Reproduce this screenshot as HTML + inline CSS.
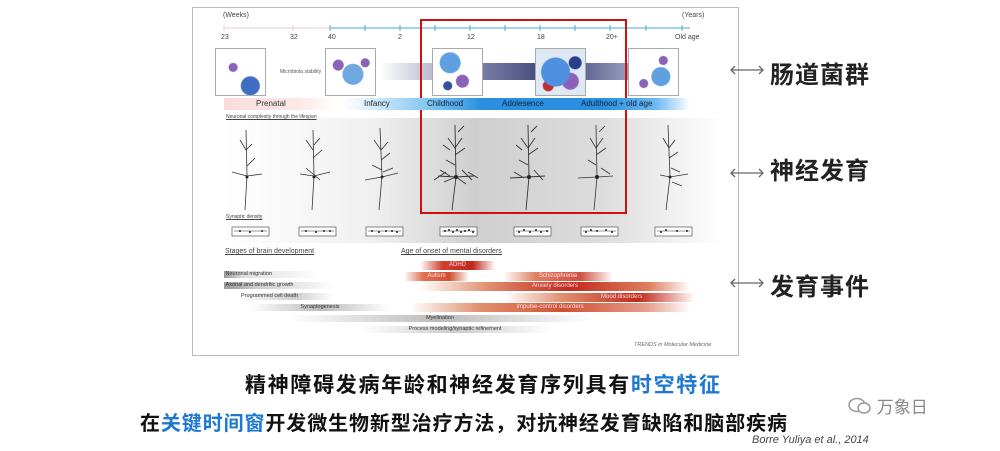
<!DOCTYPE html>
<html><head><meta charset="utf-8"><style>
body{margin:0;width:1000px;height:451px;background:#fff;position:relative;overflow:hidden;font-family:"Liberation Sans","Noto Sans CJK SC",sans-serif}
.a{position:absolute}
.fig{left:192px;top:7px;width:545px;height:347px;border:1px solid #bbb;background:#fff}
.t{font-size:7px;color:#444;position:absolute;white-space:nowrap}
.g{position:absolute;height:7px;font-size:5.5px;color:#333;text-align:center;line-height:7px}
.r{position:absolute;height:9px;font-size:6px;color:#fde;text-align:center;line-height:9px}
.lab{position:absolute;font-size:24px;font-weight:bold;color:#222;letter-spacing:1px}
.mb{position:absolute;width:49px;height:46px;border:1px solid #aaa;background:#fff}
</style></head><body>
<div class="a fig"></div>
<svg class="a" style="left:0;top:0" width="1000" height="451">
<defs>
<linearGradient id="mbg" x1="0" x2="1"><stop offset="0" stop-color="#fff"/><stop offset="0.4" stop-color="#7a7fa8"/><stop offset="0.7" stop-color="#3a3f72"/><stop offset="1" stop-color="#9aa0c0"/></linearGradient>
<linearGradient id="nbg" x1="0" x2="1"><stop offset="0" stop-color="#fff"/><stop offset="0.3" stop-color="#f0f0f0"/><stop offset="0.5" stop-color="#cfcfcf"/><stop offset="0.75" stop-color="#dcdcdc"/><stop offset="1" stop-color="#fff"/></linearGradient>
</defs>
<rect x="224" y="118" width="500" height="125" fill="url(#nbg)"/>
<line x1="224" y1="28" x2="330" y2="28" stroke="#f2c8c8" stroke-width="1"/>
<line x1="330" y1="28" x2="690" y2="28" stroke="#4aa8d0" stroke-width="1"/>
<g stroke="#4aa8d0"><line x1="330" y1="25" x2="330" y2="31"/><line x1="365" y1="25" x2="365" y2="31"/><line x1="400" y1="25" x2="400" y2="31"/><line x1="435" y1="25" x2="435" y2="31"/><line x1="470" y1="25" x2="470" y2="31"/><line x1="505" y1="25" x2="505" y2="31"/><line x1="540" y1="25" x2="540" y2="31"/><line x1="575" y1="25" x2="575" y2="31"/><line x1="610" y1="25" x2="610" y2="31"/><line x1="646" y1="25" x2="646" y2="31"/><line x1="682" y1="25" x2="682" y2="31"/></g>
<g stroke="#f2c8c8"><line x1="224" y1="25" x2="224" y2="31"/><line x1="293" y1="25" x2="293" y2="31"/></g>
<rect x="380" y="63" width="250" height="17" fill="url(#mbg)"/>
<text x="280" y="73" font-size="5" fill="#555" font-family="Liberation Sans">Microbiota stability</text>
<g stroke="#333" stroke-width="0.8" fill="none">
<path d="M246 130 L247 176 L245 210 M240 140 L246 150 L252 144 M232 172 L247 176 L262 174 M247 166 L255 158"/>
<path d="M313 130 L314 176 L312 210 M306 140 L313 150 M313 158 L322 150 M300 174 L314 176 L330 172 M306 168 L320 180 M314 145 L320 138"/>
<path d="M380 128 L382 176 L379 210 M374 140 L381 150 L388 142 M381 160 L390 153 M372 165 L382 170 M365 180 L382 177 L398 173 M383 172 L393 168"/>
<path stroke-width="0.9" d="M455 125 L456 177 L452 210 M448 138 L455 148 L462 138 M455 155 L465 148 M446 160 L455 165 M438 176 L456 177 L474 176 M440 170 L450 176 M462 170 L472 180 M444 182 L456 177 L466 184 M450 150 L443 145 M458 132 L464 126 M434 180 L446 172 M468 172 L478 178"/>
<path stroke-width="0.9" d="M528 125 L529 177 L526 210 M521 138 L528 148 L535 138 M528 155 L538 148 M519 160 L528 165 M510 178 L529 177 L545 176 M514 172 L524 178 M534 170 L543 180 M531 132 L537 126 M522 150 L516 145"/>
<path d="M596 125 L597 177 L594 210 M590 138 L596 148 L603 138 M596 155 L606 148 M588 160 L596 165 M578 178 L597 177 L613 176 M601 168 L610 174 M599 132 L605 126"/>
<path d="M668 125 L670 177 L666 210 M663 138 L669 148 L675 140 M669 158 L678 152 M660 175 L670 177 L688 174 M671 168 L680 172 M672 182 L682 186"/>
</g>
<g fill="#222"><circle cx="247" cy="177" r="1.5"/><circle cx="314" cy="177" r="1.5"/><circle cx="382" cy="177" r="1.5"/><circle cx="456" cy="177" r="2"/><circle cx="529" cy="177" r="2"/><circle cx="597" cy="177" r="2"/><circle cx="670" cy="177" r="1.5"/></g>
<g stroke="#555" stroke-width="0.7" fill="#fff">
<rect x="232" y="227" width="37" height="9"/><rect x="299" y="227" width="37" height="9"/><rect x="366" y="227" width="37" height="9"/><rect x="440" y="227" width="37" height="9"/><rect x="514" y="227" width="37" height="9"/><rect x="581" y="227" width="37" height="9"/><rect x="655" y="227" width="37" height="9"/>
</g>
<g stroke="#333" stroke-width="0.6"><line x1="234" y1="231" x2="267" y2="231"/><line x1="301" y1="231" x2="334" y2="231"/><line x1="368" y1="231" x2="401" y2="231"/><line x1="442" y1="231" x2="475" y2="231"/><line x1="516" y1="231" x2="549" y2="231"/><line x1="583" y1="231" x2="616" y2="231"/><line x1="657" y1="231" x2="690" y2="231"/></g>
<g fill="#222">
<circle cx="240" cy="231" r="1"/><circle cx="250" cy="232" r="1"/><circle cx="262" cy="231" r="1"/>
<circle cx="306" cy="231" r="1"/><circle cx="316" cy="232" r="1"/><circle cx="324" cy="231" r="1"/><circle cx="330" cy="231" r="1"/>
<circle cx="372" cy="231" r="1"/><circle cx="379" cy="232" r="1"/><circle cx="386" cy="231" r="1"/><circle cx="392" cy="231" r="1"/><circle cx="397" cy="232" r="1"/>
<circle cx="445" cy="231" r="1"/><circle cx="449" cy="230" r="1"/><circle cx="453" cy="232" r="1"/><circle cx="457" cy="230" r="1"/><circle cx="461" cy="232" r="1"/><circle cx="465" cy="231" r="1"/><circle cx="469" cy="230" r="1"/><circle cx="473" cy="232" r="1"/>
<circle cx="519" cy="232" r="1"/><circle cx="524" cy="230" r="1"/><circle cx="530" cy="232" r="1"/><circle cx="536" cy="230" r="1"/><circle cx="541" cy="232" r="1"/><circle cx="547" cy="231" r="1"/>
<circle cx="586" cy="232" r="1"/><circle cx="591" cy="230" r="1"/><circle cx="597" cy="231" r="1"/><circle cx="606" cy="230" r="1"/><circle cx="612" cy="232" r="1"/>
<circle cx="661" cy="232" r="1"/><circle cx="666" cy="230" r="1"/><circle cx="677" cy="231" r="1"/><circle cx="687" cy="231" r="1"/>
</g>
<rect x="421" y="20" width="205" height="193" fill="none" stroke="#d01010" stroke-width="2"/>
<g stroke="#666" stroke-width="1.3" fill="none">
<path d="M731 70 L763 70 M735 66 L731 70 L735 74 M759 66 L763 70 L759 74"/>
<path d="M731 173 L763 173 M735 169 L731 173 L735 177 M759 169 L763 173 L759 177"/>
<path d="M731 283 L763 283 M735 279 L731 283 L735 287 M759 279 L763 283 L759 287"/>
</g>
</svg>
<div class="t" style="left:223px;top:12px">(Weeks)</div>
<div class="t" style="left:682px;top:12px">(Years)</div>
<div class="t" style="left:221px;top:34px">23</div><div class="t" style="left:290px;top:34px">32</div><div class="t" style="left:328px;top:34px">40</div><div class="t" style="left:398px;top:34px">2</div><div class="t" style="left:467px;top:34px">12</div><div class="t" style="left:537px;top:34px">18</div><div class="t" style="left:606px;top:34px">20+</div><div class="t" style="left:675px;top:34px">Old age</div>
<div class="mb" style="left:215px;top:48px;background:radial-gradient(circle at 70% 80%,#3d6ec4 0 9px,transparent 10px),radial-gradient(circle at 35% 40%,#8a62b8 0 4px,transparent 5px),#fff"></div>
<div class="mb" style="left:325px;top:48px;background:radial-gradient(circle at 55% 55%,#6fa8e0 0 10px,transparent 11px),radial-gradient(circle at 25% 35%,#8a62b8 0 5px,transparent 6px),radial-gradient(circle at 80% 30%,#8a62b8 0 4px,transparent 5px),#fff"></div>
<div class="mb" style="left:432px;top:48px;background:radial-gradient(circle at 35% 30%,#5fa0e0 0 10px,transparent 11px),radial-gradient(circle at 60% 70%,#8a62b8 0 6px,transparent 7px),radial-gradient(circle at 30% 80%,#3050a0 0 4px,transparent 5px),#fff"></div>
<div class="mb" style="left:535px;top:48px;background:radial-gradient(circle at 40% 50%,#4f90e0 0 14px,transparent 15px),radial-gradient(circle at 70% 70%,#8a62b8 0 8px,transparent 9px),radial-gradient(circle at 25% 80%,#c03030 0 5px,transparent 6px),radial-gradient(circle at 80% 30%,#2a3f8a 0 6px,transparent 7px),#dfe8f5"></div>
<div class="mb" style="left:628px;top:48px;background:radial-gradient(circle at 65% 60%,#5fa0e0 0 9px,transparent 10px),radial-gradient(circle at 70% 25%,#8a62b8 0 4px,transparent 5px),radial-gradient(circle at 30% 75%,#8a62b8 0 4px,transparent 5px),#fff"></div>
<div class="a" style="left:224px;top:98px;width:112px;height:12px;background:linear-gradient(90deg,#fbdcdc,#fde9e9 70%,#fff)"></div>
<div class="a" style="left:345px;top:98px;width:345px;height:12px;background:linear-gradient(90deg,#fff,#7cc4f0 25%,#2a8fe0 40%,#2a8fe0 75%,#6cb8f0 90%,#fff)"></div>
<div class="t" style="left:256px;top:99px;font-size:8px;color:#333">Prenatal</div>
<div class="t" style="left:364px;top:99px;font-size:8px;color:#223">Infancy</div>
<div class="t" style="left:427px;top:99px;font-size:8px;color:#123">Childhood</div>
<div class="t" style="left:502px;top:99px;font-size:8px;color:#123">Adolesence</div>
<div class="t" style="left:581px;top:99px;font-size:8px;color:#123">Adulthood + old age</div>
<div class="t" style="left:226px;top:114px;font-size:5px;text-decoration:underline">Neuronal complexity through the lifespan</div>
<div class="t" style="left:226px;top:214px;font-size:5px;text-decoration:underline">Synaptic density</div>
<div class="t" style="left:225px;top:248px;text-decoration:underline">Stages of brain development</div>
<div class="t" style="left:401px;top:248px;text-decoration:underline">Age of onset of mental disorders</div>
<div class="g" style="left:224px;top:271px;width:95px;text-align:left;background:linear-gradient(90deg,#999,#ddd 20%,#fff)">&nbsp;Neuronal migration</div>
<div class="g" style="left:224px;top:282px;width:110px;text-align:left;background:linear-gradient(90deg,#999,#ccc 30%,#fff)">&nbsp;Axonal and dendritic growth</div>
<div class="g" style="left:238px;top:293px;width:95px;text-align:left;background:linear-gradient(90deg,#fff,#ccc 60%,#fff)">&nbsp;&nbsp;Programmed cell death</div>
<div class="g" style="left:250px;top:304px;width:140px;background:linear-gradient(90deg,#fff,#bbb 50%,#fff)">Synaptogenesis</div>
<div class="g" style="left:290px;top:315px;width:300px;background:linear-gradient(90deg,#fff,#bbb 50%,#fff)">Myelination</div>
<div class="g" style="left:360px;top:326px;width:190px;background:linear-gradient(90deg,#fff,#ccc 50%,#fff)">Process modeling/synaptic refinement</div>
<div class="r" style="left:420px;top:261px;width:75px;background:linear-gradient(90deg,#fff,#d04030 30%,#c02818 70%,#fff)">ADHD</div>
<div class="r" style="left:404px;top:272px;width:65px;background:linear-gradient(90deg,#fff,#e07050 30%,#d05030 70%,#fff)">Autism</div>
<div class="r" style="left:503px;top:272px;width:110px;background:linear-gradient(90deg,#fff,#e08060 30%,#d05040 70%,#fff)">Schizophrenia</div>
<div class="r" style="left:420px;top:282px;width:270px;background:linear-gradient(90deg,#fff,#e09070 25%,#c02818 55%,#e08060 85%,#fff)">Anxiety disorders</div>
<div class="r" style="left:505px;top:293px;width:190px;background:linear-gradient(90deg,#fff,#e09070 30%,#c02818 70%,#fff)">&nbsp;&nbsp;&nbsp;&nbsp;&nbsp;&nbsp;&nbsp;&nbsp;&nbsp;&nbsp;&nbsp;&nbsp;&nbsp;&nbsp;&nbsp;&nbsp;&nbsp;&nbsp;&nbsp;&nbsp;&nbsp;&nbsp;&nbsp;&nbsp;&nbsp;&nbsp;Mood disorders</div>
<div class="r" style="left:410px;top:303px;width:280px;background:linear-gradient(90deg,#fff,#e09070 25%,#d05030 55%,#e8a090 85%,#fff)">Impulse-control disorders</div>
<div class="t" style="left:634px;top:342px;font-size:5.5px;font-style:italic;color:#666">TRENDS in Molecular Medicine</div>
<div class="lab" style="left:770px;top:55px">肠道菌群</div>
<div class="lab" style="left:770px;top:151px">神经发育</div>
<div class="lab" style="left:770px;top:267px">发育事件</div>
<div class="a" style="left:245px;top:369px;font-size:21px;font-weight:bold;color:#111;letter-spacing:1.7px;white-space:nowrap">精神障碍发病年龄和神经发育序列具有<span style="color:#1e78d0">时空特征</span></div>
<div class="a" style="left:140px;top:407px;font-size:20px;font-weight:bold;color:#111;letter-spacing:0.9px;white-space:nowrap">在<span style="color:#1e78d0">关键时间窗</span>开发微生物新型治疗方法，对抗神经发育缺陷和脑部疾病</div>
<div class="a" style="left:752px;top:434px;font-size:11px;font-style:italic;color:#444">Borre Yuliya et al., 2014</div>
<div class="a" style="left:848px;top:393px;font-size:17px;color:#888;white-space:nowrap">
<svg width="24" height="20" style="vertical-align:-3px"><ellipse cx="9" cy="9" rx="8" ry="6.5" fill="none" stroke="#999" stroke-width="1.5"/><ellipse cx="16" cy="12" rx="6" ry="5" fill="#fff" stroke="#999" stroke-width="1.5"/></svg> 万象日</div>
</body></html>
